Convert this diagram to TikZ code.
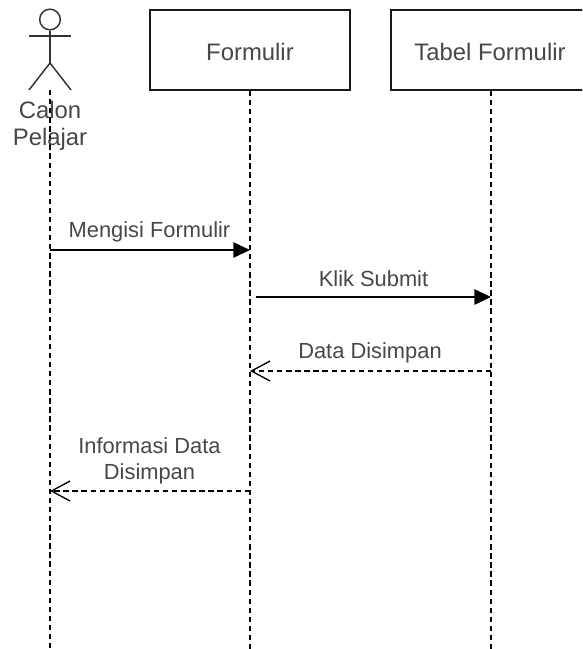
\documentclass[tikz,border=0pt]{standalone}
\usepackage{fontspec}
\setmainfont{Liberation Sans}
\usetikzlibrary{arrows.meta}
\tikzset{
  x=0.75pt,y=-0.75pt,
  lbl/.style={font=\fontsize{16.4pt}{19.6pt}\selectfont,text=black!72,inner sep=0pt,align=center},
  bigl/.style={font=\fontsize{17.9pt}{20pt}\selectfont,text=black!72,inner sep=0pt,align=center},
  head/.style={draw=black!90,line width=1.3pt,fill=white,minimum width=150pt,minimum height=60pt,inner sep=0pt},
  life/.style={draw=black,line width=1.1pt,dash pattern=on 4pt off 2.8pt},
  sync/.style={draw=black,line width=1.2pt,-{Triangle[length=12.5pt,width=11.5pt]}},
  reply/.style={draw=black,line width=1.1pt,dash pattern=on 4pt off 2.8pt,-{Straight Barb[length=14pt,width=15pt,line width=1pt]}},
  stick/.style={draw=black!80,line width=1.1pt},
}
\begin{document}
\begin{tikzpicture}
\useasboundingbox (0,0) rectangle (582,649);
\clip (0,0) rectangle (582,649);
% actor
\node[circle,draw=black!80,line width=1.1pt,minimum size=15.5pt,inner sep=0pt] (ahead) at (50,19.5) {};
\coordinate (ahip) at (50,63);
\coordinate (alarm) at (29,36);
\coordinate (ararm) at (71,36);
\coordinate (alleg) at (29,90);
\coordinate (arleg) at (71,90);
\draw[stick] (ahead.south) -- (ahip);
\draw[stick] (alarm) -- (ararm);
\draw[stick] (alleg) -- (ahip) -- (arleg);
\coordinate (a0) at (50,90);
\coordinate (a1) at (50,649);
\draw[life] (a0) -- (a1);
\node[bigl] (aname) at (50,126) {Calon\\Pelajar};
% heads
\node[head] (form) at (250,50) {};
\node[bigl] (formt) at (250,52) {Formulir};
\node[head] (tab) at (491,50) {};
\node[bigl] (tabt) at (490,52) {Tabel Formulir};
\coordinate (f1) at (250,649);
\coordinate (t1) at (491,649);
\draw[life] (form.south) -- (f1);
\draw[life] (tab.south) -- (t1);
% messages
\coordinate (m1a) at (50,250); \coordinate (m1b) at (250,250);
\draw[sync] (m1a) -- (m1b);
\node[lbl] (m1) at (149.5,232) {Mengisi Formulir};
\coordinate (m2a) at (256,297); \coordinate (m2b) at (491,297);
\draw[sync] (m2a) -- (m2b);
\node[lbl] (m2) at (373.5,279) {Klik Submit};
\coordinate (m3a) at (491,371); \coordinate (m3b) at (250,371);
\draw[reply] (m3a) -- (m3b);
\node[lbl] (m3) at (370,353) {Data Disimpan};
\coordinate (m4a) at (250,491); \coordinate (m4b) at (50,491);
\draw[reply] (m4a) -- (m4b);
\node[lbl] (m4) at (149.5,461) {Informasi Data\\Disimpan};
\end{tikzpicture}
\end{document}
